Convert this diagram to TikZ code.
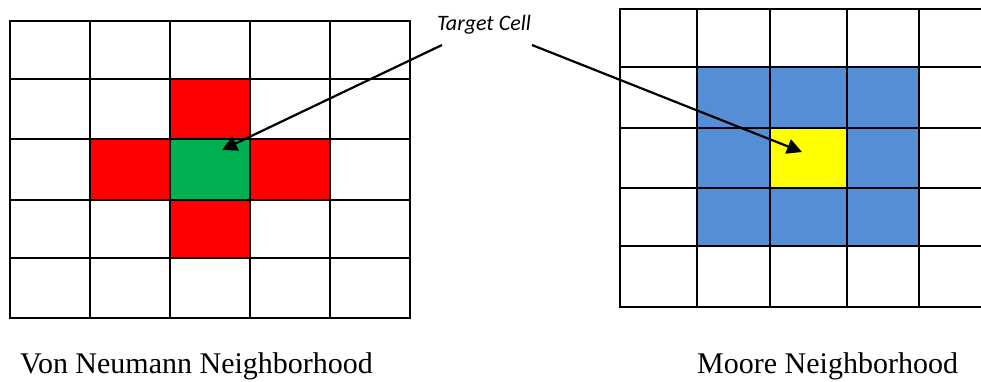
\documentclass[tikz,border=0pt]{standalone}
\usepackage{fontspec}
\setmainfont{Liberation Serif}
\newfontfamily\calib{Carlito}
\usetikzlibrary{arrows.meta}
\definecolor{vnred}{HTML}{FF0000}
\definecolor{vngreen}{HTML}{00B050}
\definecolor{mblue}{HTML}{558ED5}
\definecolor{myellow}{HTML}{FFFF00}
\begin{document}
\begin{tikzpicture}[x=1pt,y=-1pt,
  gridline/.style={line width=2.4pt, line cap=rect},
  pointer/.style={line width=2.2pt, -{Triangle[length=15pt,width=15pt]}},
  caption/.style={anchor=base west, inner sep=0pt, font=\fontsize{30}{34}\selectfont},
  tclabel/.style={anchor=base, inner sep=0pt, font=\calib\itshape\fontsize{22}{26}\selectfont}]
\useasboundingbox (0,0) rectangle (981,381);
\clip (0,0) rectangle (981,381);
% Von Neumann fills
\fill[vnred] (170,79) rectangle (250,139);
\fill[vnred] (90,139) rectangle (170,200);
\fill[vnred] (250,139) rectangle (330,200);
\fill[vnred] (170,200) rectangle (250,258);
\fill[vngreen] (170,139) rectangle (250,200);
% Von Neumann grid
\foreach \x in {10,90,170,250,330,410} \draw[gridline] (\x,21) -- (\x,318);
\foreach \y in {21,79,139,200,258,318} \draw[gridline] (10,\y) -- (410,\y);
% Moore fills
\fill[mblue] (697,67) rectangle (919,246);
\fill[myellow] (770,128) rectangle (847,188);
% Moore grid
\foreach \x in {620,697,770,847,919} \draw[gridline] (\x,9) -- (\x,307);
\foreach \y in {9,67,128,188,246,307} \draw[gridline] (620,\y) -- (1000,\y);
% labels
\node[tclabel] (tc) at (484,30) {Target Cell};
\node[caption] (vn) at (20,373) {Von Neumann Neighborhood};
\node[caption] (mo) at (697,373) {Moore Neighborhood};
% arrows
\coordinate (s1) at (442,45);
\coordinate (t1) at (222,150);
\coordinate (s2) at (532,45);
\coordinate (t2) at (802,152);
\draw[pointer] (s1) -- (t1);
\draw[pointer] (s2) -- (t2);
\end{tikzpicture}
\end{document}
